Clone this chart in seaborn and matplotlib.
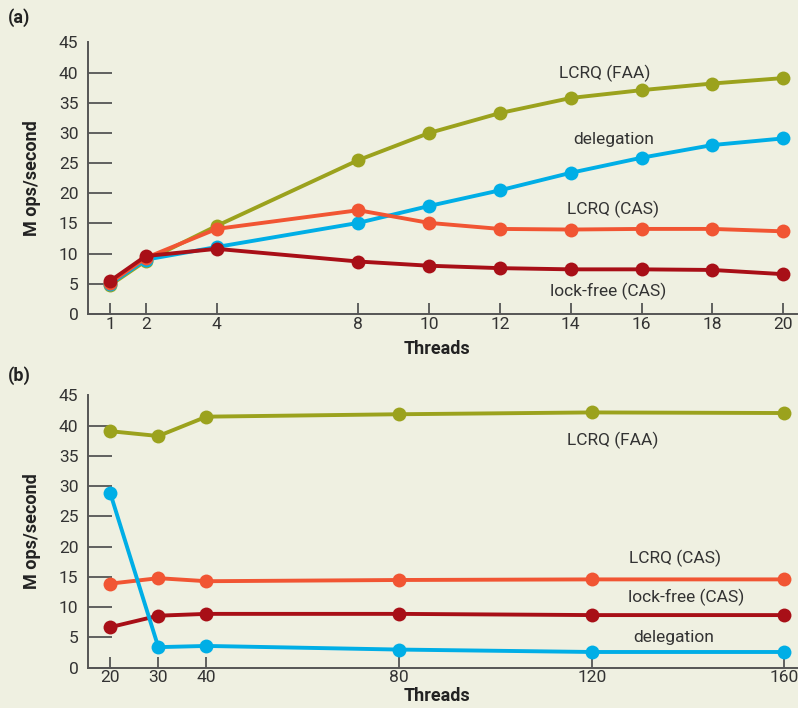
import matplotlib
matplotlib.use("Agg")
import matplotlib.pyplot as plt
import pandas as pd
import seaborn as sns

# panel (a): 1..20 threads
threads_a = [1, 2, 4, 8, 10, 12, 14, 16, 18, 20]
faa_a = [4.8, 8.8, 14.6, 25.5, 30.0, 33.3, 35.8, 37.1, 38.2, 39.1]
deleg_a = [5.0, 9.0, 11.1, 15.1, 17.9, 20.5, 23.4, 25.9, 28.0, 29.1]
cas_a = [5.2, 9.3, 14.1, 17.2, 15.1, 14.1, 14.0, 14.1, 14.1, 13.7]
lockfree_a = [5.5, 9.6, 10.8, 8.7, 8.0, 7.6, 7.4, 7.4, 7.3, 6.6]

# panel (b): 20..160 threads
threads_b = [20, 30, 40, 80, 120, 160]
faa_b = [39.1, 38.3, 41.5, 41.9, 42.2, 42.1]
deleg_b = [28.9, 3.4, 3.6, 3.0, 2.6, 2.6]
cas_b = [13.9, 14.8, 14.3, 14.5, 14.6, 14.6]
lockfree_b = [6.7, 8.6, 8.9, 8.9, 8.7, 8.7]

series = ["LCRQ (FAA)", "delegation", "LCRQ (CAS)", "lock-free (CAS)"]
yticks = [0, 5, 10, 15, 20, 25, 30, 35, 40, 45]

BG = "#eff0e1"
TXT = "#333333"
palette = {
    "LCRQ (FAA)": "#9ba21d",
    "delegation": "#00aee6",
    "LCRQ (CAS)": "#f15533",
    "lock-free (CAS)": "#a80f17",
}


def to_long(threads, cols):
    frames = []
    for name, vals in zip(series, cols):
        frames.append(pd.DataFrame({"threads": threads, "ops": vals, "series": name}))
    return pd.concat(frames, ignore_index=True)


df_a = to_long(threads_a, [faa_a, deleg_a, cas_a, lockfree_a])
df_b = to_long(threads_b, [faa_b, deleg_b, cas_b, lockfree_b])

sns.set_theme(style="white")
plt.rcParams["font.family"] = ["Roboto", "DejaVu Sans"]

fig = plt.figure(figsize=(7.98, 7.08), dpi=100, facecolor=BG)
ax_a = fig.add_axes([0.1103, 0.5565, 0.889, 0.3835])
ax_b = fig.add_axes([0.1103, 0.0569, 0.889, 0.3845])


def style_axis(ax, data, order, xticks, xlim, xlab_y):
    ax.set_facecolor(BG)
    sns.lineplot(
        data=data, x="threads", y="ops", hue="series", hue_order=order,
        palette=palette, marker="o", markersize=10, markeredgewidth=0,
        linewidth=2.8, legend=False, ax=ax,
    )
    ax.set_xlim(*xlim)
    ax.set_ylim(0, 45)
    ax.set_xticks(xticks)
    ax.set_yticks(yticks)
    ax.set_xticklabels([str(t) for t in xticks])
    ax.set_yticklabels([str(t) for t in yticks])
    for side in ["top", "right"]:
        ax.spines[side].set_visible(False)
    for side in ["left", "bottom"]:
        ax.spines[side].set_color("#555555")
        ax.spines[side].set_linewidth(1.4)
    ax.tick_params(axis="y", direction="in", length=17, width=1.3,
                   color="#555555", labelsize=12.5, labelcolor=TXT, pad=7, left=True)
    ax.tick_params(axis="x", direction="in", length=8, width=1.3,
                   color="#555555", labelsize=12.5, labelcolor=TXT, pad=2, bottom=True)
    ax.yaxis.get_major_ticks()[-1].tick1line.set_visible(False)
    ax.set_ylabel("M ops/second", fontsize=13, fontweight="bold", color="#222222")
    ax.set_xlabel("Threads", fontsize=13, fontweight="bold", color="#222222")
    ax.yaxis.set_label_coords(-0.066, 0.5)
    ax.xaxis.set_label_coords(0.492, xlab_y)
    ax.grid(False)


style_axis(ax_a, df_a, ["LCRQ (FAA)", "delegation", "LCRQ (CAS)", "lock-free (CAS)"],
           threads_a, (0.37, 20.4), -0.097)
style_axis(ax_b, df_b, ["LCRQ (FAA)", "LCRQ (CAS)", "lock-free (CAS)", "delegation"],
           threads_b, (15.4, 162.7), -0.072)

# series labels
kw = dict(fontsize=12.5, color=TXT, ha="center", va="center")
ax_a.text(14.96, 39.9, "LCRQ (FAA)", **kw)
ax_a.text(15.2, 29.0, "delegation", **kw)
ax_a.text(15.2, 17.3, "LCRQ (CAS)", **kw)
ax_a.text(15.05, 3.8, "lock-free (CAS)", **kw)
ax_b.text(124.4, 37.6, "LCRQ (FAA)", **kw)
ax_b.text(137.2, 18.1, "LCRQ (CAS)", **kw)
ax_b.text(139.5, 11.7, "lock-free (CAS)", **kw)
ax_b.text(137.0, 5.0, "delegation", **kw)

fig.text(0.010, 0.975, "(a)", fontsize=13, fontweight="bold", color="#222222", va="center")
fig.text(0.010, 0.470, "(b)", fontsize=13, fontweight="bold", color="#222222", va="center")

fig.savefig("out.png", dpi=100, facecolor=BG)
